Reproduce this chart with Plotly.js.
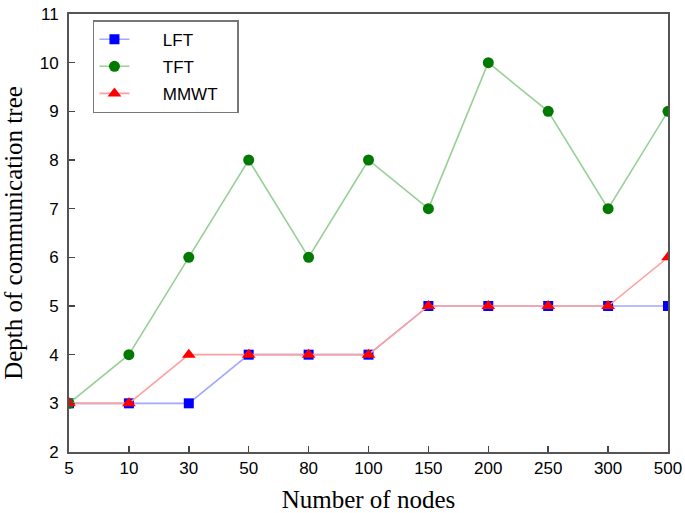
<!DOCTYPE html>
<html>
<head>
<meta charset="utf-8">
<script src="https://cdn.plot.ly/plotly-3.0.1.min.js"></script>
<style>html,body{margin:0;padding:0;background:#fff;}#chart{width:685px;height:513px;}</style>
</head>
<body>
<div id="chart"></div>
<script>
const nodes = ['5','10','30','50','80','100','150','200','250','300','500'];
const seriesNames = ['LFT','TFT','MMWT'];
const lft  = [3,3,3,4,4,4,5,5,5,5,5];
const tft  = [3,4,6,8,6,8,7,10,9,7,9];
const mmwt = [3,3,4,4,4,4,5,5,5,5,6];
const yTicks = [2,3,4,5,6,7,8,9,10,11];

const pad = '\u00a0\u00a0\u00a0\u00a0\u00a0\u00a0';
const tail = '\u00a0\u00a0\u00a0';
const traces = [
  {x: nodes, y: lft, name: pad + seriesNames[0] + tail, legendgroup: 'a', mode: 'lines+markers', type: 'scatter',
   line: {color: '#a0a8ff', width: 1.6}, marker: {symbol: 'square', color: '#0000ff', size: 10}},
  {x: nodes, y: tft, name: pad + seriesNames[1] + tail, legendgroup: 'b', mode: 'lines+markers', type: 'scatter',
   line: {color: '#98d098', width: 1.6}, marker: {symbol: 'circle', color: '#007a00', size: 11}},
  {x: nodes, y: mmwt, name: pad + seriesNames[2] + tail, legendgroup: 'c', mode: 'lines+markers', type: 'scatter',
   line: {color: '#ffa0a0', width: 1.6}, marker: {symbol: 'triangle-up', color: '#ff0000', size: 12}}
];

const layout = {
  width: 685, height: 513,
  margin: {l: 69, r: 17, t: 14, b: 61},
  paper_bgcolor: '#fff', plot_bgcolor: '#fff',
  font: {family: 'Liberation Sans, Arial, sans-serif', size: 17, color: '#000'},
  showlegend: true,
  legend: {x: 0.04, y: 0.986, xanchor: 'left', yanchor: 'top',
           bordercolor: '#777', borderwidth: 1.5, bgcolor: '#fff',
           font: {size: 17, family: 'Liberation Sans, Arial, sans-serif'},
           tracegroupgap: 2},
  xaxis: {type: 'category', range: [0, 10], showgrid: false, zeroline: false,
          showline: true, mirror: true, linecolor: '#555', linewidth: 2,
          ticks: 'inside', ticklen: 6, tickwidth: 1.5, tickcolor: '#444',
          tickfont: {size: 17}, fixedrange: true,
          title: {text: 'Number of nodes', font: {family: 'Liberation Serif, Times New Roman, serif', size: 25}, standoff: 17}},
  yaxis: {range: [2, 11], tickvals: yTicks, showgrid: false, zeroline: false,
          showline: true, mirror: true, linecolor: '#555', linewidth: 2,
          ticks: 'inside', ticklen: 6, tickwidth: 1.5, tickcolor: '#444',
          tickfont: {size: 17}, ticklabelstandoff: 5, fixedrange: true,
          title: {text: 'Depth of communication tree', font: {family: 'Liberation Serif, Times New Roman, serif', size: 25}, standoff: 10}}
};

Plotly.newPlot('chart', traces, layout, {displayModeBar: false, staticPlot: true});
</script>
</body>
</html>
